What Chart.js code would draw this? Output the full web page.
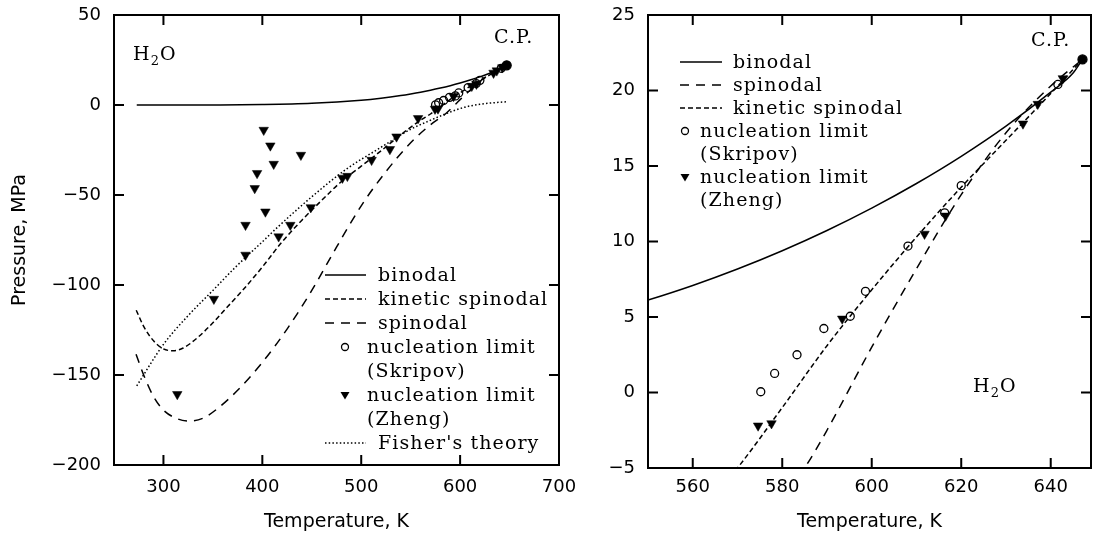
<!DOCTYPE html>
<html>
<head>
<meta charset="utf-8">
<script src="https://cdn.jsdelivr.net/npm/chart.js"></script>
<style>
  html, body { margin: 0; padding: 0; background: #fff; }
  #page { position: relative; width: 1094px; height: 535px; overflow: hidden; }
  .panel { position: absolute; top: 0; height: 535px; }
  #left { left: 0; width: 575px; }
  #right { left: 575px; width: 519px; }
</style>
</head>
<body>
<div id="page">
  <div class="panel" id="left"><canvas id="leftChart"></canvas></div>
  <div class="panel" id="right"><canvas id="rightChart"></canvas></div>
</div>

<script>
  // binodal (saturation line), T in K, P in MPa
  const binodalT = [273, 300, 350, 400, 450, 500, 520, 540, 550, 560, 570, 580, 590, 600, 610, 620, 630, 640, 645, 647.1];
  const binodalP = [0.0006, 0.0035, 0.042, 0.246, 0.93, 2.64, 3.77, 5.24, 6.12, 7.09, 8.18, 9.39, 10.73, 12.21, 13.84, 15.64, 17.64, 19.89, 21.16, 22.06];

  // kinetic spinodal
  const kineticT = [272.5, 280, 290, 300, 310, 320, 335, 350, 365, 380, 400, 420, 440, 460, 480, 500, 520, 540, 560, 570, 580, 590, 600, 610, 620, 630, 640, 647.1];
  const kineticP = [-114, -123, -131, -135.5, -136.5, -135, -129, -121, -112, -103, -90, -76, -64, -53, -42.5, -34, -25.5, -16.5, -8.5, -5, -1, 3.1, 6.8, 10.3, 13.6, 16.7, 19.8, 22.06];

  // spinodal
  const spinodalT = [272.3, 280, 290, 300, 315, 327, 340, 355, 375, 400, 425, 450, 475, 500, 525, 550, 570, 585, 590, 600, 610, 620, 630, 640, 647.1];
  const spinodalP = [-138.5, -150, -162, -169.5, -174.5, -175.6, -174, -168.5, -158.5, -143, -124.5, -103, -79, -56, -37, -21, -11, -5, -2.5, 3, 8.2, 13.1, 17.2, 20.3, 22.06];

  // Fisher's theory
  const fisherT = [273, 300, 325, 350, 373, 400, 416, 450, 484, 520, 550, 570, 585, 604, 620, 635, 648];
  const fisherP = [-156, -133, -117, -103, -90, -76, -67.6, -51, -36, -23.5, -13.5, -8.5, -5, -1.3, 0.4, 1.3, 1.8];

  // nucleation limit (Skripov)
  const skripovT = [575.2, 578.3, 583.3, 589.3, 595.2, 598.6, 608.1, 616.3, 620, 641.6];
  const skripovP = [0.05, 1.26, 2.5, 4.24, 5.05, 6.7, 9.7, 11.9, 13.7, 20.4];

  // nucleation limit (Zheng)
  const zhengT = [314, 351, 383, 383, 392.3, 394.7, 401.4, 403.1, 408.1, 411.5, 416.5, 428.3, 439, 449, 481, 486, 510.5, 529, 535.7, 557.5, 574.6, 577.6, 593.4, 611.8, 616.5, 633.8, 637.1, 642.7];
  const zhengP = [-160.7, -107.8, -66.7, -83.3, -46.3, -37.9, -13.9, -59.3, -22.6, -32.8, -73.1, -66.7, -27.8, -56.9, -40.5, -39.5, -30.6, -24.6, -17.6, -7.4, -2.2, -2.05, 4.88, 10.5, 11.7, 17.8, 19.1, 20.8];

  // critical point
  const cpT = [647.1];
  const cpP = [22.06];

  // tick values
  const leftXTicks = [300, 400, 500, 600, 700];
  const leftYTicks = [-200, -150, -100, -50, 0, 50];
  const rightXTicks = [560, 580, 600, 620, 640];
  const rightYTicks = [-5, 0, 5, 10, 15, 20, 25];

  const SANS = 'DejaVu Sans';
  const SERIF = 'DejaVu Serif';
  const TICK_LEN = 10;
  const dashes = { solid: [], kinetic: [5, 3], spinodal: [9, 7], fisher: [1.5, 2.2] };

  Chart.defaults.font.family = SANS;
  Chart.defaults.color = '#000';

  const pts = (xs, ys) => xs.map((v, i) => ({ x: v, y: ys[i] }));

  function curve(label, xs, ys, dash) {
    return {
      label: label,
      data: pts(xs, ys),
      showLine: true,
      borderColor: '#000',
      borderWidth: 1.5,
      borderDash: dash,
      pointRadius: 0,
      cubicInterpolationMode: 'monotone',
      fill: false,
    };
  }

  function markers(label, xs, ys, style) {
    const ds = {
      label: label,
      data: pts(xs, ys),
      showLine: false,
      borderColor: '#000',
      backgroundColor: '#000',
      borderWidth: 1.3,
      pointRadius: 4,
    };
    if (style === 'circle') {
      ds.backgroundColor = 'rgba(0,0,0,0)';
    } else if (style === 'tri') {
      ds.pointStyle = 'triangle';
      ds.rotation = 180;
      ds.pointRadius = 5.5;
      ds.borderWidth = 0.5;
    } else {
      ds.pointRadius = 4.5;
    }
    return ds;
  }

  function minusFmt(v) {
    return v < 0 ? '\u2212' + Math.abs(v) : String(v);
  }

  // plot box with inward tick marks on all four sides
  function makeFrame(xTicks, yTicks) {
    return {
      id: 'paperFrame',
      afterDraw(chart) {
        const ctx = chart.ctx;
        const a = chart.chartArea;
        const xs = chart.scales.x, ys = chart.scales.y;
        ctx.save();
        ctx.setLineDash([]);
        ctx.strokeStyle = '#000';
        ctx.lineWidth = 2;
        ctx.strokeRect(a.left, a.top, a.right - a.left, a.bottom - a.top);
        ctx.beginPath();
        xTicks.forEach(v => {
          const px = xs.getPixelForValue(v);
          if (px > a.left + 3 && px < a.right - 3) {
            ctx.moveTo(px, a.bottom);
            ctx.lineTo(px, a.bottom - TICK_LEN);
            ctx.moveTo(px, a.top);
            ctx.lineTo(px, a.top + TICK_LEN);
          }
        });
        yTicks.forEach(v => {
          const py = ys.getPixelForValue(v);
          if (py > a.top + 3 && py < a.bottom - 3) {
            ctx.moveTo(a.left, py);
            ctx.lineTo(a.left + TICK_LEN, py);
            ctx.moveTo(a.right, py);
            ctx.lineTo(a.right - TICK_LEN, py);
          }
        });
        ctx.stroke();
        ctx.restore();
      }
    };
  }

  function drawMark(ctx, kind, x, y) {
    ctx.beginPath();
    if (kind === 'circle') {
      ctx.lineWidth = 1.3;
      ctx.arc(x, y, 3.5, 0, Math.PI * 2);
      ctx.stroke();
    } else {
      ctx.moveTo(x - 4.5, y - 3);
      ctx.lineTo(x + 4.5, y - 3);
      ctx.lineTo(x, y + 4.5);
      ctx.closePath();
      ctx.fill();
    }
  }

  // legend and in-plot labels drawn in the serif face of the original
  const paperLegend = {
    id: 'paperLegend',
    afterDraw(chart, args, opts) {
      const ctx = chart.ctx;
      const L = opts.legend;
      ctx.save();
      ctx.fillStyle = '#000';
      ctx.strokeStyle = '#000';
      ctx.font = opts.fontSize + 'px "' + SERIF + '"';
      ctx.letterSpacing = opts.spacing + 'px';
      ctx.textBaseline = 'alphabetic';
      L.rows.forEach((r, i) => {
        const yy = L.y + i * L.step;
        if (r.kind in dashes) {
          ctx.lineWidth = 1.5;
          ctx.setLineDash(dashes[r.kind]);
          ctx.beginPath();
          ctx.moveTo(L.lineX0, yy - 6);
          ctx.lineTo(L.lineX1, yy - 6);
          ctx.stroke();
          ctx.setLineDash([]);
          ctx.fillText(r.text, L.textX, yy);
        } else {
          if (r.kind === 'circle' || r.kind === 'tri') drawMark(ctx, r.kind, L.markX, yy - 6);
          ctx.fillText(r.text, L.markTextX, yy);
        }
      });
      // H2O
      const h = opts.h2o;
      ctx.fillText('H', h.x, h.y);
      const w = ctx.measureText('H').width;
      ctx.font = Math.round(opts.fontSize * 0.7) + 'px "' + SERIF + '"';
      ctx.fillText('2', h.x + w, h.y + 5);
      const w2 = ctx.measureText('2').width;
      ctx.font = opts.fontSize + 'px "' + SERIF + '"';
      ctx.fillText('O', h.x + w + w2, h.y);
      // critical point label
      ctx.fillText('C.P.', opts.cp.x, opts.cp.y);
      ctx.restore();
    }
  };

  function xAxis(min, max, tickVals, height, pad) {
    return {
      type: 'linear',
      min: min,
      max: max,
      grid: { display: false },
      border: { display: false },
      afterBuildTicks(s) { s.ticks = tickVals.map(v => ({ value: v })); },
      ticks: { padding: pad, font: { size: 18 }, callback: minusFmt, maxRotation: 0 },
      title: { display: true, text: 'Temperature, K', font: { size: 19 }, padding: { top: 0, bottom: 2 } },
      afterFit(s) { s.height = height; s.paddingLeft = 0; s.paddingRight = 0; },
    };
  }

  function yAxis(min, max, tickVals, width, title) {
    return {
      type: 'linear',
      min: min,
      max: max,
      grid: { display: false },
      border: { display: false },
      afterBuildTicks(s) { s.ticks = tickVals.map(v => ({ value: v })); },
      ticks: { padding: 5, font: { size: 18 }, callback: minusFmt },
      title: { display: !!title, text: title || '', font: { size: 19 }, padding: { top: 9, bottom: 0 } },
      afterFit(s) { s.width = width; s.paddingTop = 0; s.paddingBottom = 0; },
    };
  }

  const leftChart = new Chart(document.getElementById('leftChart'), {
    type: 'scatter',
    data: {
      datasets: [
        curve('binodal', binodalT, binodalP, dashes.solid),
        curve('kinetic spinodal', kineticT, kineticP, dashes.kinetic),
        curve('spinodal', spinodalT, spinodalP, dashes.spinodal),
        curve("Fisher's theory", fisherT, fisherP, dashes.fisher),
        markers('nucleation limit (Skripov)', skripovT, skripovP, 'circle'),
        markers('nucleation limit (Zheng)', zhengT, zhengP, 'tri'),
        markers('C.P.', cpT, cpP, 'dot'),
      ],
    },
    options: {
      responsive: true,
      maintainAspectRatio: false,
      animation: false,
      events: [],
      layout: { autoPadding: false, padding: { top: 15, right: 16, bottom: 0, left: 0 } },
      scales: {
        x: xAxis(250, 700, leftXTicks, 70, 4),
        y: yAxis(-200, 50, leftYTicks, 114, 'Pressure, MPa'),
      },
      plugins: {
        legend: { display: false },
        tooltip: { enabled: false },
        paperLegend: {
          fontSize: 19,
          spacing: 1.1,
          h2o: { x: 133, y: 60 },
          cp: { x: 494, y: 43 },
          legend: {
            y: 281, step: 24, lineX0: 325, lineX1: 366, textX: 378, markX: 345, markTextX: 367,
            rows: [
              { kind: 'solid', text: 'binodal' },
              { kind: 'kinetic', text: 'kinetic spinodal' },
              { kind: 'spinodal', text: 'spinodal' },
              { kind: 'circle', text: 'nucleation limit' },
              { kind: 'text', text: '(Skripov)' },
              { kind: 'tri', text: 'nucleation limit' },
              { kind: 'text', text: '(Zheng)' },
              { kind: 'fisher', text: "Fisher's theory" },
            ],
          },
        },
      },
    },
    plugins: [makeFrame(leftXTicks, leftYTicks), paperLegend],
  });

  const rightChart = new Chart(document.getElementById('rightChart'), {
    type: 'scatter',
    data: {
      datasets: [
        curve('binodal', binodalT, binodalP, dashes.solid),
        curve('spinodal', spinodalT, spinodalP, dashes.spinodal),
        curve('kinetic spinodal', kineticT, kineticP, dashes.kinetic),
        markers('nucleation limit (Skripov)', skripovT, skripovP, 'circle'),
        markers('nucleation limit (Zheng)', zhengT, zhengP, 'tri'),
        markers('C.P.', cpT, cpP, 'dot'),
      ],
    },
    options: {
      responsive: true,
      maintainAspectRatio: false,
      animation: false,
      events: [],
      layout: { autoPadding: false, padding: { top: 15, right: 3, bottom: 0, left: 0 } },
      scales: {
        x: xAxis(550, 649, rightXTicks, 67, 1),
        y: yAxis(-5, 25, rightYTicks, 73, null),
      },
      plugins: {
        legend: { display: false },
        tooltip: { enabled: false },
        paperLegend: {
          fontSize: 19,
          spacing: 1.1,
          h2o: { x: 398, y: 392 },
          cp: { x: 456, y: 46 },
          legend: {
            y: 68, step: 23, lineX0: 105, lineX1: 147, textX: 158, markX: 110, markTextX: 125,
            rows: [
              { kind: 'solid', text: 'binodal' },
              { kind: 'spinodal', text: 'spinodal' },
              { kind: 'kinetic', text: 'kinetic spinodal' },
              { kind: 'circle', text: 'nucleation limit' },
              { kind: 'text', text: '(Skripov)' },
              { kind: 'tri', text: 'nucleation limit' },
              { kind: 'text', text: '(Zheng)' },
            ],
          },
        },
      },
    },
    plugins: [makeFrame(rightXTicks, rightYTicks), paperLegend],
  });
</script>
</body>
</html>
